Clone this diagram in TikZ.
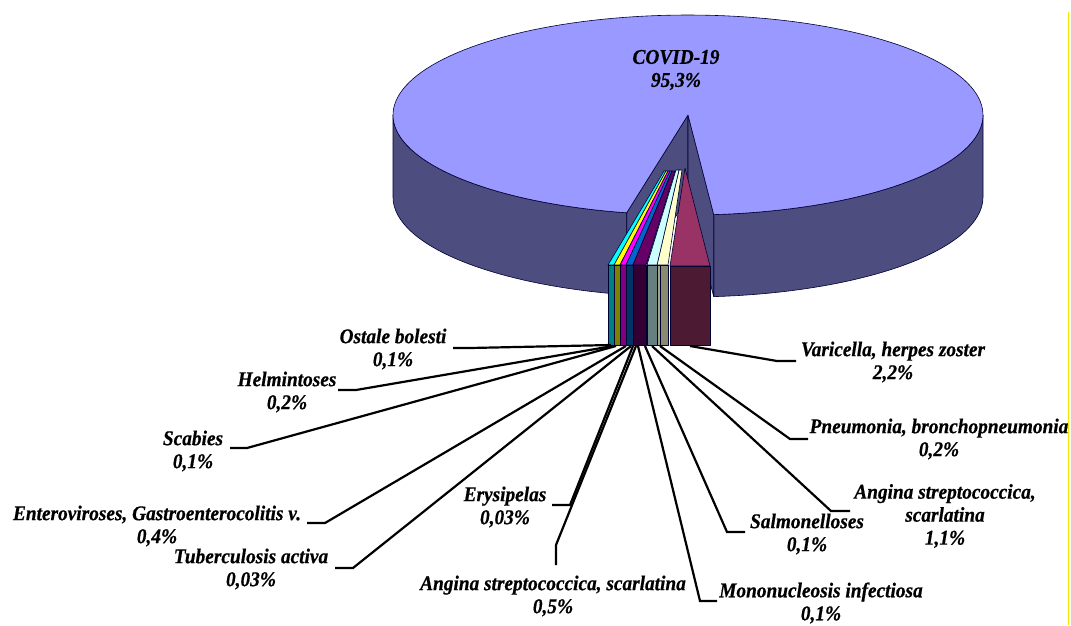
\documentclass[tikz,border=0pt]{standalone}
\usepackage{fontspec}
\setmainfont{Liberation Serif}
\newfontfamily\lblfont{Liberation Serif}[BoldItalicFeatures={FakeBold=0.6,FakeStretch=0.92}]
\usepackage{tikz}

\definecolor{covtop}{HTML}{9999FF}
\definecolor{covside}{HTML}{4D4D80}
\definecolor{varitop}{HTML}{993366}
\definecolor{varifront}{HTML}{4D1A33}
\definecolor{ltcyan}{HTML}{CCFFFF}
\definecolor{ltcyanfront}{HTML}{668080}
\definecolor{ltyellow}{HTML}{FFFFCC}
\definecolor{ltyellowfront}{HTML}{8A8A70}
\definecolor{ltyellowcut}{HTML}{A3A385}
\definecolor{dkpurple}{HTML}{660066}
\definecolor{dkpurplefront}{HTML}{330033}
\definecolor{ocean}{HTML}{0066CC}
\definecolor{oceanfront}{HTML}{003366}
\definecolor{pinktop}{HTML}{FF00FF}
\definecolor{pinkfront}{HTML}{800080}
\definecolor{yeltop}{HTML}{FFFF00}
\definecolor{yelfront}{HTML}{808000}
\definecolor{turqtop}{HTML}{00FFFF}
\definecolor{turqfront}{HTML}{008080}
\definecolor{edgeyellow}{HTML}{F2E600}

\begin{document}
\begin{tikzpicture}[x=1pt,y=-1pt,
  lbl/.style={font=\lblfont\fontsize{21}{23}\selectfont\bfseries\itshape, align=center, inner sep=0pt},
  leader/.style={line width=2.2pt},
  face/.style={draw=black!80!blue, line width=0.6pt, line join=round}]

\useasboundingbox (0,0) rectangle (1071,625);
\fill[white] (0,0) rectangle (1071,625);
\draw[edgeyellow, line width=1pt] (1068,12) -- (1068,625);

% pie body (COVID-19)
\filldraw[face, fill=covside] plot[domain=180:258, samples=40] ({688+295*cos(\x)},{115-100*sin(\x)})
  -- plot[domain=258:180, samples=40] ({688+295*cos(\x)},{197-100*sin(\x)}) -- cycle;
\filldraw[face, fill=covside] plot[domain=275:360, samples=40] ({688+295*cos(\x)},{115-100*sin(\x)})
  -- plot[domain=360:275, samples=40] ({688+295*cos(\x)},{197-100*sin(\x)}) -- cycle;
\filldraw[face, fill=covside] (688,115) -- (626.7,212.8) -- (626.7,294.8) -- (688,197) -- cycle;
\filldraw[face, fill=covside] (688,115) -- (713.7,214.6) -- (713.7,296.6) -- (688,197) -- cycle;
\filldraw[face, fill=covtop] (688,115) -- plot[domain=275:618, samples=160] ({688+295*cos(\x)},{115-100*sin(\x)}) -- cycle;
\node[lbl] (covid) at (676,70) {COVID-19\\95,3\%};

% exploded slices
\filldraw[face, fill=turqtop] (608,265) -- (614,265) -- (666,171) -- (664,171) -- cycle;
\filldraw[face, fill=turqfront] (608,265) rectangle (614,345);
\filldraw[face, fill=yeltop] (614,265) -- (620,265) -- (668,171) -- (666,171) -- cycle;
\filldraw[face, fill=yelfront] (614,265) rectangle (620,345);
\filldraw[face, fill=pinktop] (620,265) -- (626,265) -- (670,171) -- (668,171) -- cycle;
\filldraw[face, fill=pinkfront] (620,265) rectangle (626,345);
\filldraw[face, fill=ocean] (626,265) -- (633,265) -- (672,171) -- (670,171) -- cycle;
\filldraw[face, fill=oceanfront] (626,265) rectangle (633,345);
\filldraw[face, fill=dkpurple] (633,265) -- (646,265) -- (675,171) -- (672,171) -- cycle;
\filldraw[face, fill=dkpurplefront] (633,265) rectangle (646,345);
\filldraw[face, fill=ltyellow] (657,265) -- (668,265) -- (682,170) -- (679,170) -- cycle;
\filldraw[face, fill=ltyellowcut] (657,265) rectangle (660,345);
\filldraw[face, fill=ltyellowfront] (660,265) rectangle (668,345);
\filldraw[face, fill=ltcyan] (647,265) -- (657,265) -- (679,170) -- (676,170) -- cycle;
\filldraw[face, fill=ltcyanfront] (647,265) rectangle (657,345);
\filldraw[face, fill=varitop] (685,168) -- (670,266) -- (710,266) -- cycle;
\filldraw[face, fill=varifront] (670,266) rectangle (710,345);

% leader ends on the slices
\coordinate (ostS) at (611,345);
\coordinate (helmS) at (613,346);
\coordinate (scabS) at (616,346);
\coordinate (entS) at (626,346);
\coordinate (tubS) at (631,346);
\coordinate (erysS) at (633,346);
\coordinate (angaS) at (636,346);
\coordinate (monoS) at (638,346);
\coordinate (salmS) at (645,346);
\coordinate (angbS) at (652,346);
\coordinate (pneuS) at (660,346);
\coordinate (variS) at (690,346);

% labels
\node[lbl] (ost) at (393,349) {Ostale bolesti\\0,1\%};
\node[lbl] (helm) at (287,392) {Helmintoses\\0,2\%};
\node[lbl] (scab) at (193,451) {Scabies\\0,1\%};
\node[lbl] (ent) at (157,526) {Enteroviroses, Gastroenterocolitis v.\\0,4\%};
\node[lbl] (tub) at (251,569) {Tuberculosis activa\\0,03\%};
\node[lbl] (erys) at (505,507) {Erysipelas\\0,03\%};
\node[lbl] (anga) at (553,596) {Angina streptococcica, scarlatina\\0,5\%};
\node[lbl] (mono) at (821,603) {Mononucleosis infectiosa\\0,1\%};
\node[lbl] (salm) at (807,534) {Salmonelloses\\0,1\%};
\node[lbl] (angb) at (945,516) {Angina streptococcica,\\scarlatina\\1,1\%};
\node[lbl] (pneu) at (939,439) {Pneumonia, bronchopneumonia\\0,2\%};
\node[lbl] (vari) at (893,362) {Varicella, herpes zoster\\2,2\%};

% leader lines
\draw[leader] (ostS) -- (470,348) -- ++(-17,0);
\draw[leader] (helmS) -- (356,390) -- ++(-18,0);
\draw[leader] (scabS) -- (247,448) -- ++(-17,0);
\draw[leader] (entS) -- (325,523) -- ++(-18,0);
\draw[leader] (tubS) -- (353,568) -- ++(-18,0);
\draw[leader] (erysS) -- (570,505) -- ++(-18,0);
\draw[leader] (angaS) -- (556,545) -- ++(0,20);
\draw[leader] (monoS) -- (700,601) -- ++(17,0);
\draw[leader] (salmS) -- (727,532) -- ++(18,0);
\draw[leader] (angbS) -- (831,511) -- ++(19,0);
\draw[leader] (pneuS) -- (790,439) -- ++(18,0);
\draw[leader] (variS) -- (777,361) -- ++(19,0);
\end{tikzpicture}
\end{document}
